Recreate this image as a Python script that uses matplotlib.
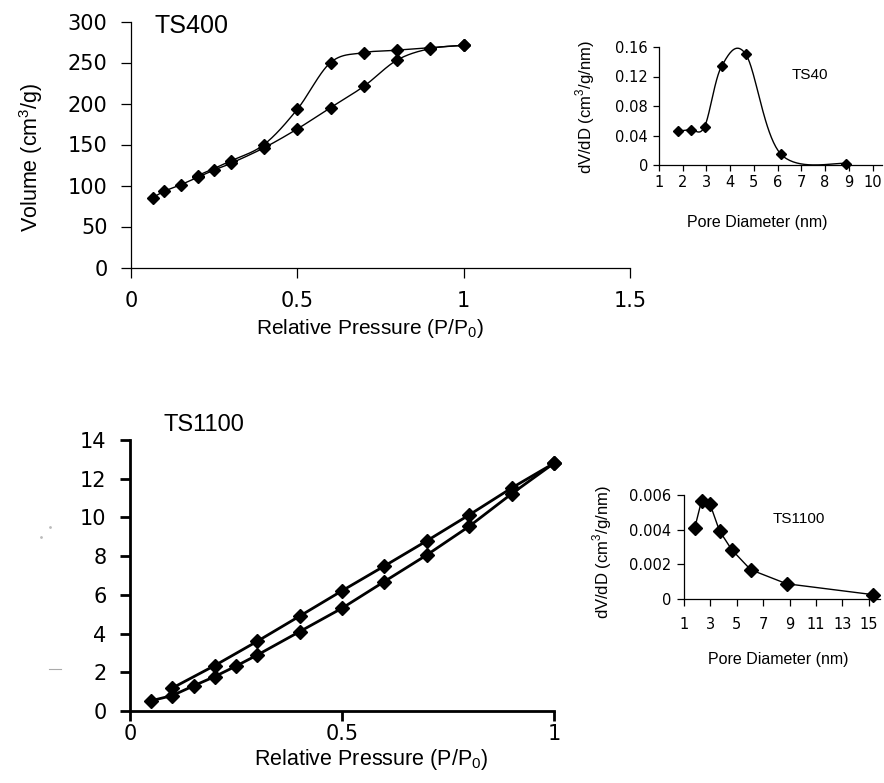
import numpy as np
import matplotlib
matplotlib.use("Agg")
import matplotlib.pyplot as plt
from matplotlib.lines import Line2D

plt.rcParams["font.family"] = ["Liberation Sans", "DejaVu Sans"]
plt.rcParams["mathtext.fontset"] = "custom"
plt.rcParams["mathtext.rm"] = "Liberation Sans"

# TS400 isotherm
ts400_ads_p = [0.065, 0.10, 0.15, 0.20, 0.25, 0.30, 0.40, 0.50, 0.60, 0.70, 0.80, 0.90, 1.00]
ts400_ads_v = [85, 93, 101, 110, 119, 127, 146, 169, 195, 221, 253, 267, 271]
ts400_des_p = [1.00, 0.90, 0.80, 0.70, 0.60, 0.50, 0.40, 0.30, 0.20]
ts400_des_v = [271, 268, 265, 262, 250, 193, 150, 130, 112]

# TS40 pore size distribution
ts40_d = [1.80, 2.33, 2.92, 3.64, 4.66, 6.13, 8.89]
ts40_dv = [0.046, 0.048, 0.052, 0.134, 0.150, 0.015, 0.002]

# TS1100 isotherm
ts1100_ads_p = [0.05, 0.10, 0.15, 0.20, 0.25, 0.30, 0.40, 0.50, 0.60, 0.70, 0.80, 0.90, 1.00]
ts1100_ads_v = [0.53, 0.80, 1.30, 1.78, 2.32, 2.89, 4.10, 5.31, 6.69, 8.06, 9.54, 11.22, 12.80]
ts1100_des_p = [1.00, 0.90, 0.80, 0.70, 0.60, 0.50, 0.40, 0.30, 0.20, 0.10]
ts1100_des_v = [12.80, 11.52, 10.13, 8.79, 7.49, 6.21, 4.90, 3.60, 2.35, 1.19]

# TS1100 pore size distribution
ts1100_d = [1.82, 2.33, 2.97, 3.69, 4.62, 6.05, 8.77, 15.33]
ts1100_dv = [0.00412, 0.00567, 0.00548, 0.00393, 0.00284, 0.00169, 0.00088, 0.00025]

W, H = 884, 783


def box(left, top, right, bottom):
    # pixel box -> figure fraction rect
    return [left / W, 1 - bottom / H, (right - left) / W, (bottom - top) / H]


def smooth(x, y, n=40):
    # excel-like bezier smoothing through the points
    pts = np.column_stack([x, y]).astype(float)
    P = np.vstack([pts[0], pts, pts[-1]])
    t = np.linspace(0, 1, n)[:, None]
    out = []
    for i in range(1, len(P) - 2):
        p0, p1, p2, p3 = P[i - 1], P[i], P[i + 1], P[i + 2]
        c1 = p1 + (p2 - p0) / 6
        c2 = p2 - (p3 - p1) / 6
        seg = (1 - t) ** 3 * p1 + 3 * (1 - t) ** 2 * t * c1 + 3 * (1 - t) * t ** 2 * c2 + t ** 3 * p2
        out.append(seg)
    s = np.vstack(out)
    return s[:, 0], s[:, 1]


def style_axes(ax, lw, ticklen, fs, xpad, ypad):
    for s in ["top", "right"]:
        ax.spines[s].set_visible(False)
    for s in ["left", "bottom"]:
        ax.spines[s].set_linewidth(lw)
        ax.spines[s].set_color("black")
    ax.tick_params(direction="out", length=ticklen, width=lw, labelsize=fs)
    ax.tick_params(axis="x", pad=xpad)
    ax.tick_params(axis="y", pad=ypad)
    for lbl in ax.get_xticklabels() + ax.get_yticklabels():
        lbl.set_fontfamily("DejaVu Sans")


fig = plt.figure(figsize=(8.84, 7.83), dpi=100)

# ---- top main ----
ax1 = fig.add_axes(box(131, 21.5, 630, 267.5))
for p, v in [(ts400_ads_p, ts400_ads_v), (ts400_des_p, ts400_des_v)]:
    sx, sy = smooth(p, v)
    ax1.plot(sx, sy, color="black", lw=1.0)
    ax1.plot(p, v, "D", color="black", ms=6.5, clip_on=False)
ax1.set_xlim(0, 1.5)
ax1.set_ylim(0, 300)
ax1.set_xticks([0, 0.5, 1, 1.5])
ax1.set_xticklabels(["0", "0.5", "1", "1.5"])
ax1.set_yticks(range(0, 301, 50))
style_axes(ax1, 0.9, 7, 15, 10, 10)
ax1.set_xlabel("Relative Pressure (P/P$_0$)", fontsize=15, va="center")
ax1.xaxis.set_label_coords(0.479, -0.246)
ax1.set_ylabel("Volume (cm$^3$/g)", fontsize=15.5, va="center")
ax1.yaxis.set_label_coords(-0.200, 0.449)
ax1.text(0.072, 294, "TS400", fontsize=18, va="center", ha="left")

# ---- top inset ----
ax2 = fig.add_axes(box(659, 47, 882, 165))
sx, sy = smooth(ts40_d, ts40_dv)
ax2.plot(sx, sy, color="black", lw=1.0)
ax2.plot(ts40_d, ts40_dv, "D", color="black", ms=5.5, clip_on=False)
ax2.set_xlim(1, 10.4)
ax2.set_ylim(0, 0.16)
ax2.set_xticks(range(1, 11))
ax2.set_yticks([0, 0.04, 0.08, 0.12, 0.16])
ax2.set_yticklabels(["0", "0.04", "0.08", "0.12", "0.16"])
style_axes(ax2, 0.9, 4, 10.5, 3.5, 4)
ax2.set_xlabel("Pore Diameter (nm)", fontsize=11.5, va="center")
ax2.xaxis.set_label_coords(0.439, -0.49)
ax2.set_ylabel("dV/dD (cm$^3$/g/nm)", fontsize=12, va="center")
ax2.yaxis.set_label_coords(-0.332, 0.49)
ax2.text(6.6, 0.122, "TS40", fontsize=11, va="center", ha="left")

# ---- bottom main ----
ax3 = fig.add_axes(box(130, 440, 554, 711))
for p, v in [(ts1100_ads_p, ts1100_ads_v), (ts1100_des_p, ts1100_des_v)]:
    ax3.plot(p, v, color="black", lw=2.0)
    ax3.plot(p, v, "D", color="black", ms=7.5, clip_on=False)
ax3.set_xlim(0, 1)
ax3.set_ylim(0, 14)
ax3.set_xticks([0, 0.5, 1])
ax3.set_xticklabels(["0", "0.5", "1"])
ax3.set_yticks(range(0, 15, 2))
style_axes(ax3, 2.0, 7, 15, 2, 10)
ax3.set_xlabel("Relative Pressure (P/P$_0$)", fontsize=15.5, va="center")
ax3.xaxis.set_label_coords(0.568, -0.18)
ax3.text(0.078, 14.8, "TS1100", fontsize=17, va="center", ha="left")

# ---- bottom inset ----
ax4 = fig.add_axes(box(684, 495, 880, 599))
ax4.plot(ts1100_d, ts1100_dv, color="black", lw=1.0)
ax4.plot(ts1100_d, ts1100_dv, "D", color="black", ms=7, clip_on=False)
ax4.set_xlim(1, 15.85)
ax4.set_ylim(0, 0.006)
ax4.set_xticks(range(1, 16, 2))
ax4.set_yticks([0, 0.002, 0.004, 0.006])
ax4.set_yticklabels(["0", "0.002", "0.004", "0.006"])
style_axes(ax4, 0.9, 5, 10.5, 8, 4)
ax4.set_xlabel("Pore Diameter (nm)", fontsize=11.5, va="center")
ax4.xaxis.set_label_coords(0.48, -0.577)
ax4.set_ylabel("dV/dD (cm$^3$/g/nm)", fontsize=12, va="center")
ax4.yaxis.set_label_coords(-0.418, 0.452)
ax4.text(7.7, 0.0046, "TS1100", fontsize=11, va="center", ha="left")

# faint leftover marks at the left edge
fig.add_artist(Line2D([49 / W, 61 / W], [1 - 669 / H, 1 - 669 / H], color="#aaaaaa", lw=0.8))
fig.add_artist(Line2D([50 / W], [1 - 527 / H], marker="o", ms=1, color="#bbbbbb", lw=0))
fig.add_artist(Line2D([41 / W], [1 - 537 / H], marker="o", ms=1, color="#bbbbbb", lw=0))

fig.savefig("out.png", dpi=100)
